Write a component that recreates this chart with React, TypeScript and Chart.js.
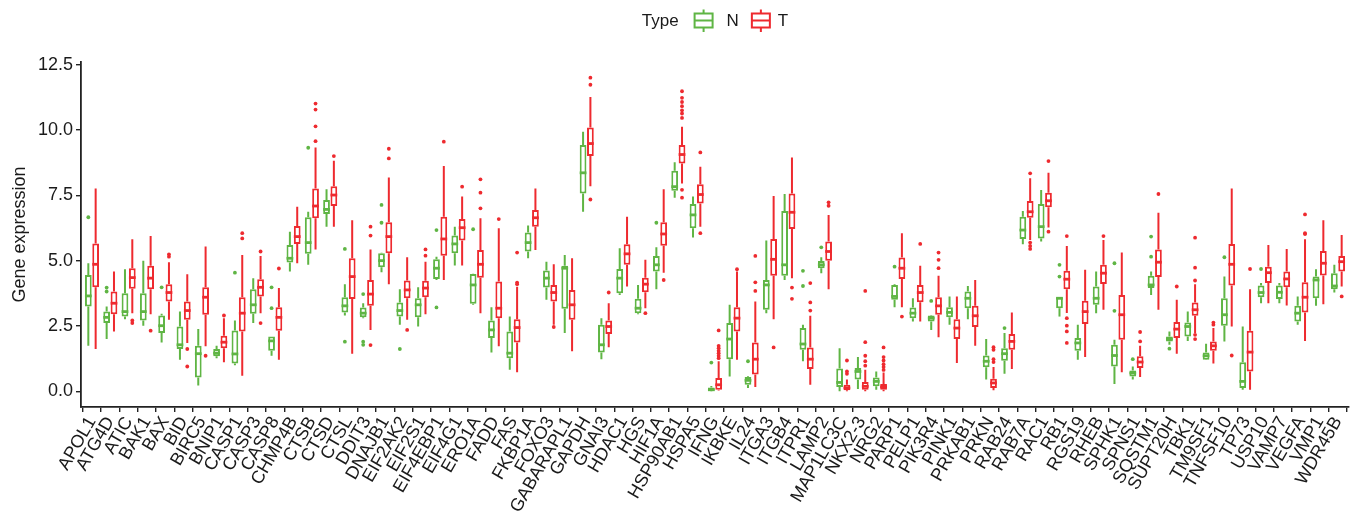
import React, { useEffect, useRef } from 'react';
import { Chart, registerables } from 'chart.js';

Chart.register(...registerables);

const genes = [
  'APOL1', 'ATG4D', 'ATIC', 'BAK1', 'BAX', 'BID', 'BIRC5', 'BNIP1', 'CASP1', 'CASP3',
  'CASP8', 'CHMP4B', 'CTSB', 'CTSD', 'CTSL', 'DDIT3', 'DNAJB1', 'EIF2AK2', 'EIF2S1', 'EIF4EBP1',
  'EIF4G1', 'ERO1A', 'FADD', 'FAS', 'FKBP1A', 'FOXO3', 'GABARAPL1', 'GAPDH', 'GNAI3', 'HDAC1',
  'HGS', 'HIF1A', 'HSP90AB1', 'HSPA5', 'IFNG', 'IKBKE', 'IL24', 'ITGA3', 'ITGB4', 'ITPR1',
  'LAMP2', 'MAP1LC3C', 'NKX2-3', 'NRG2', 'PARP1', 'PELP1', 'PIK3R4', 'PINK1', 'PRKAB1', 'PRKN',
  'RAB24', 'RAB7A', 'RAC1', 'RB1', 'RGS19', 'RHEB', 'SPHK1', 'SPNS1', 'SQSTM1', 'SUPT20H',
  'TBK1', 'TM9SF1', 'TNFSF10', 'TP73', 'USP10', 'VAMP7', 'VEGFA', 'VMP1', 'WDR45B',
];

// Group N (normal): [min, q1, median, q3, max] per gene
const nStats: number[][] = [
  [1.74, 3.25, 3.65, 4.45, 4.9], [2.0, 2.61, 2.83, 3.05, 3.25], [2.76, 2.86, 3.05, 3.75, 4.67],
  [2.51, 2.71, 3.05, 3.75, 5.0], [1.87, 2.23, 2.51, 2.9, 2.97], [1.21, 1.62, 1.78, 2.48, 3.05],
  [0.22, 0.53, 1.44, 1.74, 2.38], [1.27, 1.34, 1.46, 1.62, 1.74], [1.0, 1.06, 1.43, 2.33, 2.71],
  [2.61, 2.97, 3.31, 3.91, 4.33], [1.36, 1.55, 1.93, 2.1, 2.1], [4.58, 4.93, 5.09, 5.6, 6.11],
  [4.84, 5.26, 5.69, 6.66, 6.87], [6.3, 6.78, 6.96, 7.32, 7.73], [2.9, 3.02, 3.27, 3.6, 4.1],
  [2.8, 2.83, 2.99, 3.21, 3.37], [4.56, 4.75, 5.0, 5.28, 5.3], [2.55, 2.86, 3.09, 3.4, 3.91],
  [2.48, 2.83, 3.31, 3.56, 3.98], [4.26, 4.3, 4.71, 5.05, 5.15], [4.81, 5.28, 5.64, 5.96, 6.3],
  [3.31, 3.35, 4.07, 4.49, 4.5], [1.49, 2.04, 2.35, 2.71, 3.22], [0.83, 1.27, 1.46, 2.29, 2.86],
  [5.09, 5.35, 5.69, 6.08, 6.34], [3.5, 3.97, 4.33, 4.62, 4.96], [2.23, 3.16, 4.71, 4.8, 5.22],
  [6.87, 7.57, 8.36, 9.42, 9.93], [1.23, 1.49, 1.78, 2.55, 2.8], [3.69, 3.75, 4.33, 4.68, 5.47],
  [2.95, 2.99, 3.18, 3.54, 4.07], [3.91, 4.58, 4.84, 5.18, 5.51], [7.41, 7.67, 7.83, 8.44, 8.76],
  [5.89, 6.24, 6.75, 7.17, 7.45], [0.0, 0.02, 0.06, 0.15, 0.2], [0.57, 1.23, 2.0, 2.61, 3.31],
  [0.13, 0.25, 0.42, 0.55, 0.58], [2.99, 3.12, 4.07, 4.26, 5.77], [4.26, 4.42, 4.84, 6.9, 7.55],
  [1.15, 1.59, 1.81, 2.42, 2.55], [4.52, 4.71, 4.84, 4.99, 5.13], [0.0, 0.17, 0.34, 0.87, 1.65],
  [0.09, 0.45, 0.76, 0.89, 1.31], [0.06, 0.19, 0.38, 0.53, 0.76], [3.22, 3.5, 3.63, 4.07, 4.1],
  [2.67, 2.8, 2.99, 3.21, 3.56], [2.35, 2.67, 2.8, 2.9, 2.92], [2.55, 2.83, 3.02, 3.22, 3.63],
  [2.76, 3.18, 3.56, 3.82, 4.03], [0.45, 0.92, 1.15, 1.37, 2.0], [0.67, 1.17, 1.44, 1.65, 2.23],
  [5.63, 5.83, 6.17, 6.68, 6.9], [5.73, 5.85, 6.3, 7.17, 7.7], [2.86, 3.18, 3.56, 3.6, 3.6],
  [1.21, 1.55, 1.85, 2.04, 2.55], [2.99, 3.31, 3.56, 4.01, 4.58], [0.28, 0.95, 1.37, 1.78, 1.97],
  [0.45, 0.57, 0.7, 0.8, 0.95], [3.69, 3.95, 4.07, 4.42, 4.58], [1.78, 1.91, 2.0, 2.1, 2.29],
  [1.93, 2.1, 2.48, 2.63, 3.05], [1.2, 1.21, 1.36, 1.49, 1.82], [1.91, 2.51, 2.93, 3.56, 4.39],
  [0.06, 0.13, 0.38, 1.11, 2.48], [3.37, 3.6, 3.78, 4.05, 4.14], [3.37, 3.53, 3.79, 4.05, 4.14],
  [2.55, 2.67, 2.99, 3.27, 3.63], [3.27, 3.56, 4.26, 4.39, 4.67], [3.78, 3.91, 4.03, 4.52, 4.84],
];

// Group T (tumour): [min, q1, median, q3, max] per gene
const tStats: number[][] = [
  [1.62, 3.98, 4.86, 5.66, 7.76], [2.29, 2.95, 3.37, 3.82, 4.58], [2.99, 3.92, 4.35, 4.71, 5.82],
  [2.95, 3.91, 4.33, 4.8, 5.94], [2.74, 3.44, 3.78, 4.1, 4.94], [1.85, 2.74, 3.09, 3.44, 4.48],
  [1.72, 2.93, 3.6, 3.98, 5.54], [1.11, 1.65, 1.88, 2.13, 2.8], [0.6, 2.29, 2.99, 3.6, 5.22],
  [2.99, 3.63, 3.98, 4.29, 5.18], [1.21, 2.32, 2.83, 3.22, 3.95], [4.9, 5.64, 5.92, 6.33, 7.06],
  [5.43, 6.62, 7.09, 7.76, 9.33], [6.3, 7.09, 7.51, 7.85, 8.82], [1.44, 3.53, 4.39, 5.09, 6.55],
  [2.35, 3.27, 3.72, 4.26, 5.43], [4.1, 5.28, 5.92, 6.47, 8.18], [2.74, 3.56, 3.88, 4.24, 5.13],
  [2.95, 3.6, 3.95, 4.23, 4.96], [4.26, 5.19, 5.83, 6.68, 8.62], [4.81, 5.77, 6.26, 6.59, 7.45],
  [2.99, 4.35, 4.86, 5.41, 6.62], [1.72, 2.8, 3.18, 4.2, 6.24], [0.73, 1.87, 2.44, 2.76, 4.0],
  [5.41, 6.3, 6.64, 6.94, 7.76], [2.55, 3.44, 3.78, 4.07, 4.86], [1.53, 2.74, 3.31, 3.88, 5.09],
  [7.85, 9.0, 9.48, 10.09, 11.26], [1.69, 2.19, 2.48, 2.71, 3.37], [4.01, 4.84, 5.26, 5.63, 6.68],
  [3.18, 3.79, 4.1, 4.35, 5.03], [4.54, 5.57, 6.02, 6.47, 7.73], [7.95, 8.72, 9.06, 9.42, 10.12],
  [6.3, 7.19, 7.53, 7.92, 8.59], [0.03, 0.06, 0.25, 0.51, 1.15], [1.21, 2.29, 2.8, 3.22, 4.58],
  [0.17, 0.64, 1.23, 1.87, 3.44], [2.76, 4.42, 5.05, 5.83, 7.47], [4.33, 6.21, 6.85, 7.57, 8.95],
  [0.25, 0.85, 1.23, 1.68, 2.89], [3.91, 5.0, 5.35, 5.73, 6.75], [0.0, 0.04, 0.13, 0.25, 0.45],
  [0.0, 0.06, 0.19, 0.36, 0.83], [0.0, 0.06, 0.17, 0.28, 0.72], [3.22, 4.3, 4.71, 5.12, 6.05],
  [2.67, 3.41, 3.78, 4.07, 4.8], [2.07, 2.93, 3.27, 3.6, 4.42], [1.08, 2.0, 2.42, 2.76, 3.63],
  [1.74, 2.46, 2.89, 3.27, 4.26], [0.04, 0.13, 0.32, 0.48, 0.93], [0.85, 1.59, 1.91, 2.19, 3.02],
  [5.79, 6.64, 6.87, 7.28, 8.15], [6.27, 7.04, 7.29, 7.6, 8.36], [3.0, 3.91, 4.29, 4.61, 5.56],
  [1.31, 2.58, 3.05, 3.47, 4.65], [3.12, 4.11, 4.52, 4.84, 5.79], [0.73, 1.97, 2.93, 3.69, 5.31],
  [0.55, 0.89, 1.12, 1.34, 1.74], [3.12, 4.37, 4.94, 5.43, 6.83], [1.44, 2.04, 2.38, 2.65, 3.5],
  [2.23, 2.89, 3.12, 3.4, 4.1], [1.06, 1.55, 1.74, 1.91, 2.42], [2.48, 4.05, 4.86, 5.64, 7.76],
  [0.06, 0.76, 1.5, 2.32, 3.91], [3.37, 4.14, 4.54, 4.77, 5.6], [3.28, 3.98, 4.3, 4.58, 5.45],
  [1.93, 3.02, 3.6, 4.17, 5.82], [3.33, 4.43, 4.9, 5.37, 6.55], [4.01, 4.58, 4.96, 5.18, 5.98],
];

// Outlier points per gene
const nOutliers: number[][] = [
  [6.66], [3.97, 3.82], [], [], [3.98], [], [], [], [4.54], [],
  [3.98, 3.18], [], [9.32], [], [5.45, 1.9], [3.72, 1.9, 1.78], [7.13, 6.45], [1.62], [], [6.17, 3.21],
  [], [6.2], [], [], [], [], [], [], [], [],
  [], [6.45], [], [], [1.1], [], [1.15], [], [], [4.61, 4.03],
  [5.51], [], [], [], [4.77], [], [3.46], [], [], [],
  [2.42], [], [], [4.84, 4.39], [], [], [4.9, 3.08], [1.23], [5.92, 5.15], [1.63],
  [], [], [5.13], [], [4.68], [], [], [], [],
];

const tOutliers: number[][] = [
  [], [], [2.71, 2.61], [2.32], [5.24, 5.15], [1.62, 0.95], [1.36], [2.9], [6.05, 5.85], [5.35, 2.61],
  [4.7], [], [11.01, 10.78, 10.14, 9.57], [9.0], [], [6.3, 5.96, 1.77], [9.28, 8.91], [2.35], [5.43, 5.19], [9.55],
  [7.83], [8.11, 7.6, 7.0], [6.59], [5.31, 4.16, 4.1], [], [2.46], [], [12.0, 11.73, 7.34], [3.78], [],
  [2.99], [4.26], [11.48, 11.23, 11.07, 10.91, 10.75, 10.63, 10.46, 7.71, 7.41], [9.14, 6.05],
  [2.33, 1.74, 1.65, 1.55, 1.46, 1.36, 1.27], [4.67], [5.18, 4.17, 3.84], [1.68], [3.97, 3.54], [4.14, 3.4, 3.09],
  [7.23, 7.1], [1.18, 0.76, 0.67], [3.84, 1.88, 1.36, 1.15, 0.98], [1.68, 1.31, 1.18, 1.04, 0.93, 0.82], [2.86],
  [5.64], [5.31, 5.03, 4.71], [], [], [1.69, 1.59, 1.23, 1.12],
  [], [8.34, 5.69, 5.56, 5.45], [8.81, 6.11], [5.94, 2.8, 2.51, 2.29, 1.85], [], [5.94], [], [2.27, 1.91], [7.55], [4.01],
  [5.88, 4.73, 4.24, 2.16, 2.0], [2.63, 2.55], [1.37], [4.68], [], [], [6.77, 6.05, 6.02], [], [3.63],
];

const groupNames = ['N', 'T'];
const yTicks = [0, 2.5, 5, 7.5, 10, 12.5];

const GREEN = '#5FB544';
const RED = '#EE2A2F';
const AXIS = '#222222';
const FONT = '"Liberation Sans", Arial, Helvetica, sans-serif';
const FS = 18;
const LEG_FS = 17;
const LW = 2;

const groups = [
  { name: groupNames[0], stats: nStats, out: nOutliers, color: GREEN },
  { name: groupNames[1], stats: tStats, out: tOutliers, color: RED },
];

const boxPlugin = {
  id: 'boxExtras',
  afterDatasetsDraw(chart: any) {
    const ctx = chart.ctx;
    const ys = chart.scales.y;
    groups.forEach((g, di) => {
      const meta = chart.getDatasetMeta(di);
      meta.data.forEach((bar: any, i: number) => {
        const s = g.stats[i];
        const x = bar.x;
        const w = bar.width;
        ctx.save();
        ctx.strokeStyle = g.color;
        ctx.lineWidth = LW;
        ctx.beginPath();
        ctx.moveTo(x, ys.getPixelForValue(s[3]));
        ctx.lineTo(x, ys.getPixelForValue(s[4]));
        ctx.moveTo(x, ys.getPixelForValue(s[1]));
        ctx.lineTo(x, ys.getPixelForValue(s[0]));
        ctx.stroke();
        const ym = ys.getPixelForValue(s[2]);
        ctx.lineWidth = 2.8;
        ctx.beginPath();
        ctx.moveTo(x - w / 2, ym);
        ctx.lineTo(x + w / 2, ym);
        ctx.stroke();
        ctx.fillStyle = g.color;
        for (const v of g.out[i]) {
          ctx.beginPath();
          ctx.arc(x, ys.getPixelForValue(v), 1.9, 0, Math.PI * 2);
          ctx.fill();
        }
        ctx.restore();
      });
    });
  },
  afterDraw(chart: any) {
    const ctx = chart.ctx;
    const area = chart.chartArea;
    const cx = (area.left + area.right) / 2;
    const cy = 21;
    ctx.save();
    ctx.font = `${LEG_FS}px ${FONT}`;
    ctx.fillStyle = '#1a1a1a';
    ctx.textBaseline = 'middle';
    ctx.textAlign = 'left';
    const gw = 20;
    const wType = ctx.measureText('Type').width;
    const wN = ctx.measureText(groups[0].name).width;
    const wT = ctx.measureText(groups[1].name).width;
    const total = wType + 15 + gw + 13 + wN + 12 + gw + 7 + wT;
    let x = cx - total / 2;
    ctx.fillText('Type', x, cy);
    x += wType + 15;
    const glyph = (gx: number, color: string) => {
      ctx.strokeStyle = color;
      ctx.lineWidth = 2;
      ctx.strokeRect(gx + 1, 13.5, gw - 2, 14);
      ctx.beginPath();
      ctx.moveTo(gx + 1, 20.5);
      ctx.lineTo(gx + gw - 1, 20.5);
      ctx.moveTo(gx + gw / 2, 9.5);
      ctx.lineTo(gx + gw / 2, 13.5);
      ctx.moveTo(gx + gw / 2, 27.5);
      ctx.lineTo(gx + gw / 2, 32);
      ctx.stroke();
    };
    glyph(x, groups[0].color);
    x += gw + 13;
    ctx.fillText(groups[0].name, x, cy);
    x += wN + 12;
    glyph(x, groups[1].color);
    x += gw + 7;
    ctx.fillText(groups[1].name, x, cy);
    ctx.restore();
  },
};

export default function App() {
  const ref = useRef<HTMLCanvasElement | null>(null);
  useEffect(() => {
    document.body.style.margin = '0';
    if (!ref.current) return;
    const chart = new Chart(ref.current, {
      type: 'bar',
      data: {
        datasets: groups.map((g) => ({
          label: g.name,
          data: g.stats.map((s, i) => ({ x: i, y: [s[1], s[3]] })),
          backgroundColor: '#ffffff',
          borderColor: g.color,
          borderWidth: LW,
          borderSkipped: false,
          categoryPercentage: 0.8,
          barPercentage: 0.92,
        })) as any,
      },
      options: {
        animation: false,
        responsive: false,
        layout: { padding: { top: 62, right: 14, left: 0, bottom: 0 } },
        plugins: { legend: { display: false }, tooltip: { enabled: false } },
        scales: {
          x: {
            type: 'linear',
            min: -0.6,
            max: genes.length - 0.4,
            offset: false,
            afterBuildTicks: (s: any) => {
              s.ticks = genes.map((_, i) => ({ value: i }));
            },
            afterFit: (s: any) => {
              s.height = 108;
            },
            ticks: {
              autoSkip: false,
              minRotation: 60,
              maxRotation: 60,
              padding: 1,
              color: '#1a1a1a',
              font: { family: FONT, size: FS },
              callback: (v: any) => genes[v] ?? '',
            },
            grid: { drawOnChartArea: false, tickLength: 5, color: AXIS, lineWidth: 1.4 },
            border: { color: AXIS, width: 1.8 },
          },
          y: {
            type: 'linear',
            min: -0.6,
            max: 12.6,
            afterBuildTicks: (s: any) => {
              s.ticks = yTicks.map((v) => ({ value: v }));
            },
            afterFit: (s: any) => {
              s.width = 81;
            },
            ticks: {
              padding: 3,
              color: '#1a1a1a',
              font: { family: FONT, size: FS },
              callback: (v: any) => Number(v).toFixed(1),
            },
            grid: { drawOnChartArea: false, tickLength: 5, color: AXIS, lineWidth: 1.4 },
            border: { color: AXIS, width: 1.8 },
            title: {
              display: true,
              text: 'Gene expression',
              color: '#1a1a1a',
              font: { family: FONT, size: FS },
              padding: { top: 9, bottom: 2 },
            },
          },
        },
      } as any,
      plugins: [boxPlugin],
    });
    return () => chart.destroy();
  }, []);
  return (
    <div style={{ width: 1363, height: 515, background: '#fff' }}>
      <canvas ref={ref} width={1363} height={515} />
    </div>
  );
}
